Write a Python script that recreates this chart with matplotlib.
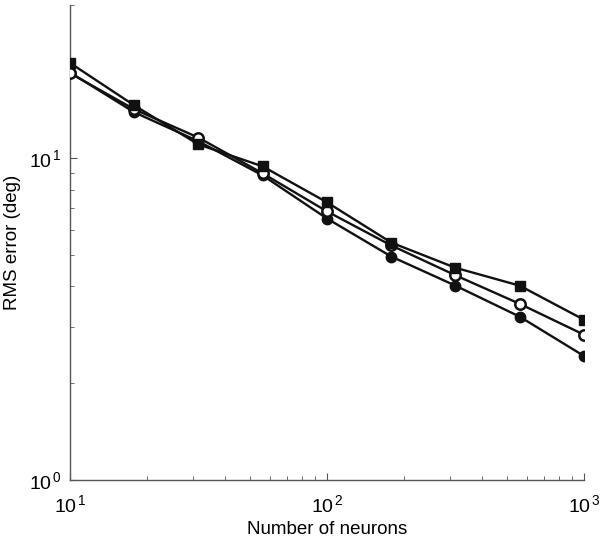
import matplotlib
matplotlib.use("Agg")
import matplotlib.pyplot as plt
from matplotlib.ticker import LogLocator, FixedLocator, NullFormatter

plt.rcParams["font.family"] = ["Liberation Sans", "DejaVu Sans"]
plt.rcParams["mathtext.fontset"] = "custom"
plt.rcParams["mathtext.rm"] = "Liberation Sans"
plt.rcParams["mathtext.it"] = "Liberation Sans"

# number of neurons (quarter-decade steps)
n_neurons = [10, 17.8, 31.6, 56.2, 100, 178, 316, 562, 1000]

# RMS error (deg)
err_square = [19.8, 14.6, 11.05, 9.44, 7.30, 5.47, 4.57, 4.02, 3.15]
err_open = [18.4, 14.2, 11.6, 8.98, 6.84, 5.36, 4.33, 3.53, 2.83]
err_filled = [18.5, 13.9, 11.3, 8.85, 6.50, 4.95, 4.02, 3.22, 2.43]

fig = plt.figure(figsize=(6, 5.43), dpi=100)
ax = fig.add_axes([0.1167, 0.116, 0.8566, 0.875])

lw = 1.7
ax.plot(n_neurons, err_filled, "-o", color="#111111", lw=lw, ms=7.5,
        mfc="#111111", mec="#111111", zorder=3)
ax.plot(n_neurons, err_open, "-o", color="#111111", lw=lw, ms=7.5,
        mfc="white", mec="#111111", mew=1.8, zorder=4)
ax.plot(n_neurons, err_square, "-s", color="#111111", lw=lw, ms=6.5,
        mfc="#111111", mec="#111111", zorder=5)

ax.set_xscale("log")
ax.set_yscale("log")
ax.set_xlim(10, 1000)
ax.set_ylim(1, 30)

for s in ["top", "right"]:
    ax.spines[s].set_visible(False)
for s in ["left", "bottom"]:
    ax.spines[s].set_color("#555555")
    ax.spines[s].set_linewidth(1.0)

ax.xaxis.set_major_locator(FixedLocator([10, 100, 1000]))
ax.yaxis.set_major_locator(FixedLocator([1, 10]))
ax.xaxis.set_minor_locator(LogLocator(base=10, subs=range(2, 10)))
ax.yaxis.set_minor_locator(LogLocator(base=10, subs=range(2, 10)))
ax.xaxis.set_minor_formatter(NullFormatter())
ax.yaxis.set_minor_formatter(NullFormatter())
ax.set_xticklabels([r"$10^{\,1}$", r"$10^{\,2}$", r"$10^{\,3}$"])
ax.set_yticklabels([r"$10^{\,0}$", r"$10^{\,1}$"])

ax.tick_params(which="both", direction="in", color="#555555", labelsize=14)
ax.tick_params(which="major", length=5)
ax.tick_params(which="minor", length=3)
ax.tick_params(axis="x", pad=10)
ax.tick_params(axis="y", pad=6)

ax.set_xlabel("Number of neurons", fontsize=13.5, labelpad=4)
ax.set_ylabel("RMS error (deg)", fontsize=13.5, labelpad=6)

fig.savefig("out.png", dpi=100)
